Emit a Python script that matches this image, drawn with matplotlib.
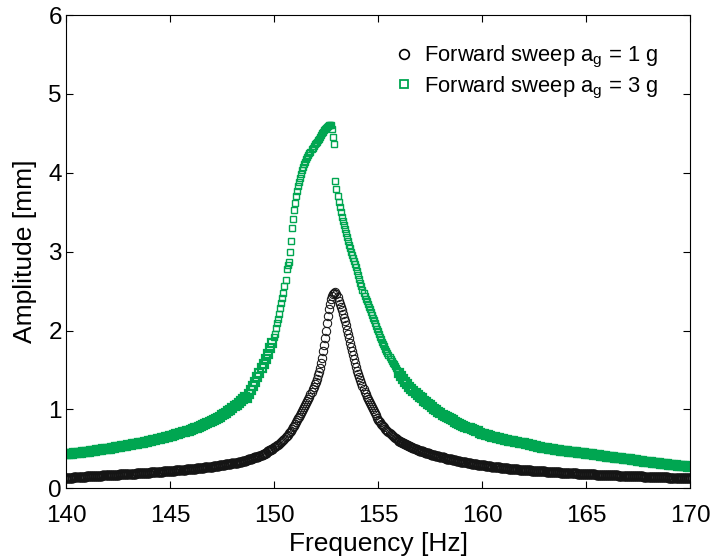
"""Forward sweep amplitude response at a_g = 1 g and 3 g."""
import numpy as np
import matplotlib
matplotlib.use("Agg")
import matplotlib.pyplot as plt
from matplotlib.lines import Line2D

plt.rcParams["font.family"] = ["Liberation Sans", "DejaVu Sans"]
plt.rcParams["mathtext.default"] = "regular"

# sweep grid: 0.1 Hz on the flanks, 0.05 Hz around resonance
freq_lo = np.round(np.arange(140.0, 149.95, 0.1), 2)
freq_pk = np.round(np.arange(150.0, 155.975, 0.05), 2)
freq_hi = np.round(np.arange(156.0, 170.05, 0.1), 2)

# amplitude [mm], a_g = 3 g
amp3_lo = [0.430, 0.433, 0.436, 0.439, 0.442, 0.445, 0.448, 0.451, 0.454, 0.457,
           0.460, 0.464, 0.468, 0.472, 0.476, 0.480, 0.484, 0.488, 0.492, 0.496,
           0.500, 0.504, 0.509, 0.513, 0.518, 0.522, 0.527, 0.531, 0.536, 0.540,
           0.545, 0.550, 0.555, 0.560, 0.565, 0.570, 0.575, 0.580, 0.585, 0.590,
           0.595, 0.601, 0.607, 0.613, 0.620, 0.626, 0.633, 0.640, 0.646, 0.653,
           0.660, 0.667, 0.675, 0.683, 0.691, 0.699, 0.707, 0.715, 0.723, 0.731,
           0.740, 0.749, 0.759, 0.769, 0.779, 0.790, 0.801, 0.812, 0.824, 0.837,
           0.850, 0.864, 0.878, 0.893, 0.909, 0.925, 0.942, 0.960, 0.978, 0.997,
           1.017, 1.037, 1.058, 1.080, 1.103, 1.127, 1.160, 1.145, 1.190, 1.245,
           1.300, 1.350, 1.405, 1.460, 1.520, 1.580, 1.640, 1.705, 1.775, 1.845]
amp3_pk = [1.92, 1.96, 2.03, 2.09, 2.15, 2.21, 2.28, 2.35, 2.41, 2.48,
           2.56, 2.64, 2.78, 2.83, 2.87, 3.00, 3.13, 3.30, 3.42, 3.53,
           3.62, 3.70, 3.77, 3.83, 3.88, 3.93, 3.98, 4.03, 4.07, 4.11,
           4.14, 4.17, 4.20, 4.22, 4.25, 4.27, 4.30, 4.32, 4.34, 4.36,
           4.38, 4.39, 4.41, 4.43, 4.46, 4.48, 4.50, 4.52, 4.54, 4.55,
           4.57, 4.58, 4.59, 4.60, 4.61, 4.61, 4.55, 4.46, 4.37, 3.89,
           3.80, 3.71, 3.63, 3.57, 3.50, 3.44, 3.39, 3.34, 3.29, 3.24,
           3.19, 3.14, 3.09, 3.05, 3.00, 2.96, 2.92, 2.88, 2.84, 2.80,
           2.75, 2.70, 2.65, 2.60, 2.56, 2.52, 2.48, 2.44, 2.40, 2.37,
           2.33, 2.30, 2.27, 2.23, 2.20, 2.16, 2.13, 2.09, 2.06, 2.02,
           1.99, 1.96, 1.92, 1.89, 1.86, 1.83, 1.80, 1.77, 1.74, 1.71,
           1.69, 1.66, 1.64, 1.61, 1.59, 1.57, 1.55, 1.52, 1.50, 1.48]
amp3_hi = [1.46, 1.42, 1.39, 1.35, 1.32, 1.29, 1.26, 1.23, 1.21, 1.18,
           1.16, 1.14, 1.11, 1.09, 1.07, 1.05, 1.03, 1.01, 0.99, 0.97,
           0.950, 0.935, 0.920, 0.905, 0.890, 0.875, 0.860, 0.845, 0.830, 0.815,
           0.800, 0.790, 0.780, 0.770, 0.760, 0.750, 0.740, 0.730, 0.720, 0.705,
           0.690, 0.683, 0.676, 0.669, 0.662, 0.655, 0.648, 0.641, 0.634, 0.627,
           0.620, 0.615, 0.610, 0.605, 0.600, 0.595, 0.590, 0.585, 0.580, 0.575,
           0.570, 0.564, 0.558, 0.552, 0.546, 0.540, 0.534, 0.528, 0.522, 0.516,
           0.510, 0.506, 0.502, 0.498, 0.494, 0.490, 0.486, 0.482, 0.478, 0.474,
           0.470, 0.467, 0.464, 0.461, 0.458, 0.455, 0.452, 0.449, 0.446, 0.443,
           0.440, 0.436, 0.432, 0.428, 0.424, 0.420, 0.416, 0.412, 0.408, 0.404,
           0.400, 0.397, 0.394, 0.391, 0.388, 0.385, 0.382, 0.379, 0.376, 0.373,
           0.370, 0.366, 0.362, 0.358, 0.354, 0.350, 0.346, 0.342, 0.338, 0.334,
           0.330, 0.327, 0.324, 0.321, 0.318, 0.315, 0.312, 0.309, 0.306, 0.303,
           0.300, 0.297, 0.294, 0.291, 0.288, 0.285, 0.282, 0.279, 0.276, 0.273,
           0.270]

# amplitude [mm], a_g = 1 g
amp1_lo = [0.130, 0.132, 0.134, 0.136, 0.138, 0.140, 0.142, 0.144, 0.146, 0.148,
           0.150, 0.151, 0.153, 0.154, 0.156, 0.157, 0.159, 0.160, 0.162, 0.163,
           0.165, 0.167, 0.168, 0.170, 0.171, 0.173, 0.175, 0.176, 0.178, 0.179,
           0.181, 0.183, 0.184, 0.186, 0.188, 0.190, 0.191, 0.193, 0.195, 0.197,
           0.199, 0.201, 0.203, 0.205, 0.207, 0.209, 0.211, 0.213, 0.215, 0.217,
           0.219, 0.221, 0.224, 0.226, 0.229, 0.231, 0.234, 0.236, 0.239, 0.241,
           0.244, 0.247, 0.250, 0.253, 0.256, 0.259, 0.262, 0.265, 0.268, 0.271,
           0.274, 0.278, 0.282, 0.286, 0.290, 0.294, 0.298, 0.302, 0.306, 0.310,
           0.315, 0.320, 0.325, 0.331, 0.337, 0.343, 0.350, 0.357, 0.365, 0.373,
           0.382, 0.392, 0.402, 0.413, 0.425, 0.438, 0.452, 0.467, 0.483, 0.500]
amp1_pk = [0.518, 0.526, 0.534, 0.543, 0.553, 0.564, 0.576, 0.588, 0.601, 0.615,
           0.630, 0.645, 0.661, 0.678, 0.695, 0.713, 0.732, 0.752, 0.773, 0.795,
           0.818, 0.840, 0.862, 0.885, 0.908, 0.932, 0.957, 0.983, 1.010, 1.030,
           1.050, 1.075, 1.100, 1.130, 1.160, 1.190, 1.222, 1.254, 1.286, 1.318,
           1.350, 1.390, 1.430, 1.475, 1.520, 1.585, 1.650, 1.735, 1.820, 1.900,
           1.990, 2.090, 2.190, 2.270, 2.340, 2.400, 2.440, 2.465, 2.480, 2.490,
           2.460, 2.420, 2.380, 2.340, 2.300, 2.255, 2.210, 2.165, 2.120, 2.065,
           2.010, 1.955, 1.900, 1.845, 1.790, 1.740, 1.690, 1.640, 1.590, 1.540,
           1.490, 1.450, 1.410, 1.370, 1.330, 1.295, 1.260, 1.225, 1.190, 1.160,
           1.130, 1.105, 1.080, 1.055, 1.030, 1.005, 0.975, 0.950, 0.925, 0.897,
           0.870, 0.852, 0.835, 0.818, 0.802, 0.786, 0.771, 0.756, 0.742, 0.728,
           0.715, 0.702, 0.689, 0.677, 0.665, 0.653, 0.642, 0.631, 0.620, 0.610]
amp1_hi = [0.600, 0.586, 0.572, 0.558, 0.545, 0.532, 0.520, 0.508, 0.497, 0.486,
           0.476, 0.467, 0.458, 0.449, 0.441, 0.433, 0.425, 0.418, 0.411, 0.404,
           0.397, 0.390, 0.383, 0.377, 0.371, 0.365, 0.359, 0.353, 0.347, 0.342,
           0.337, 0.332, 0.327, 0.322, 0.317, 0.313, 0.309, 0.305, 0.301, 0.297,
           0.293, 0.289, 0.285, 0.281, 0.277, 0.273, 0.270, 0.267, 0.264, 0.261,
           0.258, 0.255, 0.252, 0.249, 0.246, 0.243, 0.241, 0.239, 0.237, 0.235,
           0.233, 0.231, 0.229, 0.227, 0.225, 0.223, 0.221, 0.219, 0.217, 0.215,
           0.213, 0.211, 0.209, 0.208, 0.206, 0.204, 0.203, 0.201, 0.199, 0.198,
           0.196, 0.195, 0.193, 0.192, 0.190, 0.189, 0.187, 0.186, 0.184, 0.183,
           0.181, 0.180, 0.178, 0.177, 0.176, 0.174, 0.173, 0.172, 0.170, 0.169,
           0.168, 0.167, 0.165, 0.164, 0.163, 0.162, 0.161, 0.159, 0.158, 0.157,
           0.156, 0.155, 0.154, 0.153, 0.152, 0.151, 0.150, 0.149, 0.148, 0.147,
           0.146, 0.145, 0.144, 0.143, 0.142, 0.141, 0.140, 0.139, 0.138, 0.137,
           0.136, 0.135, 0.134, 0.133, 0.132, 0.131, 0.130, 0.129, 0.128, 0.127,
           0.126]

GREEN = "#00a651"
BLACK = "#151515"

fig = plt.figure(figsize=(7.1, 5.58), dpi=100)
ax = fig.add_axes([0.093, 0.125, 0.879, 0.848])

# the dense, slowly varying flanks merge into a solid band -> heavier edges there
# (freq, amp 1 g, amp 3 g, circle edge, square size, square edge)
segments = [(freq_lo, amp1_lo, amp3_lo, 1.5, 5.4, 1.6),
            (freq_pk, amp1_pk, amp3_pk, 0.75, 4.6, 1.0),
            (freq_hi, amp1_hi, amp3_hi, 1.5, 5.4, 1.6)]
for f, a1, a3, w1, s3, w3 in segments:
    ax.plot(f, a1, "o", ls="none", ms=6, mfc="none", mec=BLACK, mew=w1)
for f, a1, a3, w1, s3, w3 in segments:
    ax.plot(f, a3, "s", ls="none", ms=s3, mfc="none", mec=GREEN, mew=w3)

ax.set_xlim(140, 170)
ax.set_ylim(0, 6)
ax.set_xticks([140, 145, 150, 155, 160, 165, 170])
ax.set_yticks([0, 1, 2, 3, 4, 5, 6])
ax.tick_params(direction="in", length=5, width=0.8, top=True, right=True, labelsize=17.5)
ax.tick_params(axis="x", pad=12)
ax.tick_params(axis="y", pad=3)
for s in ax.spines.values():
    s.set_linewidth(0.8)
ax.set_xlabel("Frequency [Hz]", fontsize=19, labelpad=4)
ax.set_ylabel("Amplitude [mm]", fontsize=19, labelpad=8)

handles = [Line2D([], [], marker="o", ls="none", ms=7, mfc="none", mec="k", mew=1.2),
           Line2D([], [], marker="s", ls="none", ms=6, mfc="none", mec=GREEN, mew=1.3)]
labels = ["Forward sweep a$_g$ = 1 g", "Forward sweep a$_g$ = 3 g"]
ax.legend(handles, labels, loc="upper right", bbox_to_anchor=(0.963, 0.957), frameon=False,
          fontsize=15.8, handlelength=0.8, handletextpad=0.5,
          labelspacing=0.2, borderaxespad=0)

fig.savefig("out.png", dpi=100)
print("saved out.png")
